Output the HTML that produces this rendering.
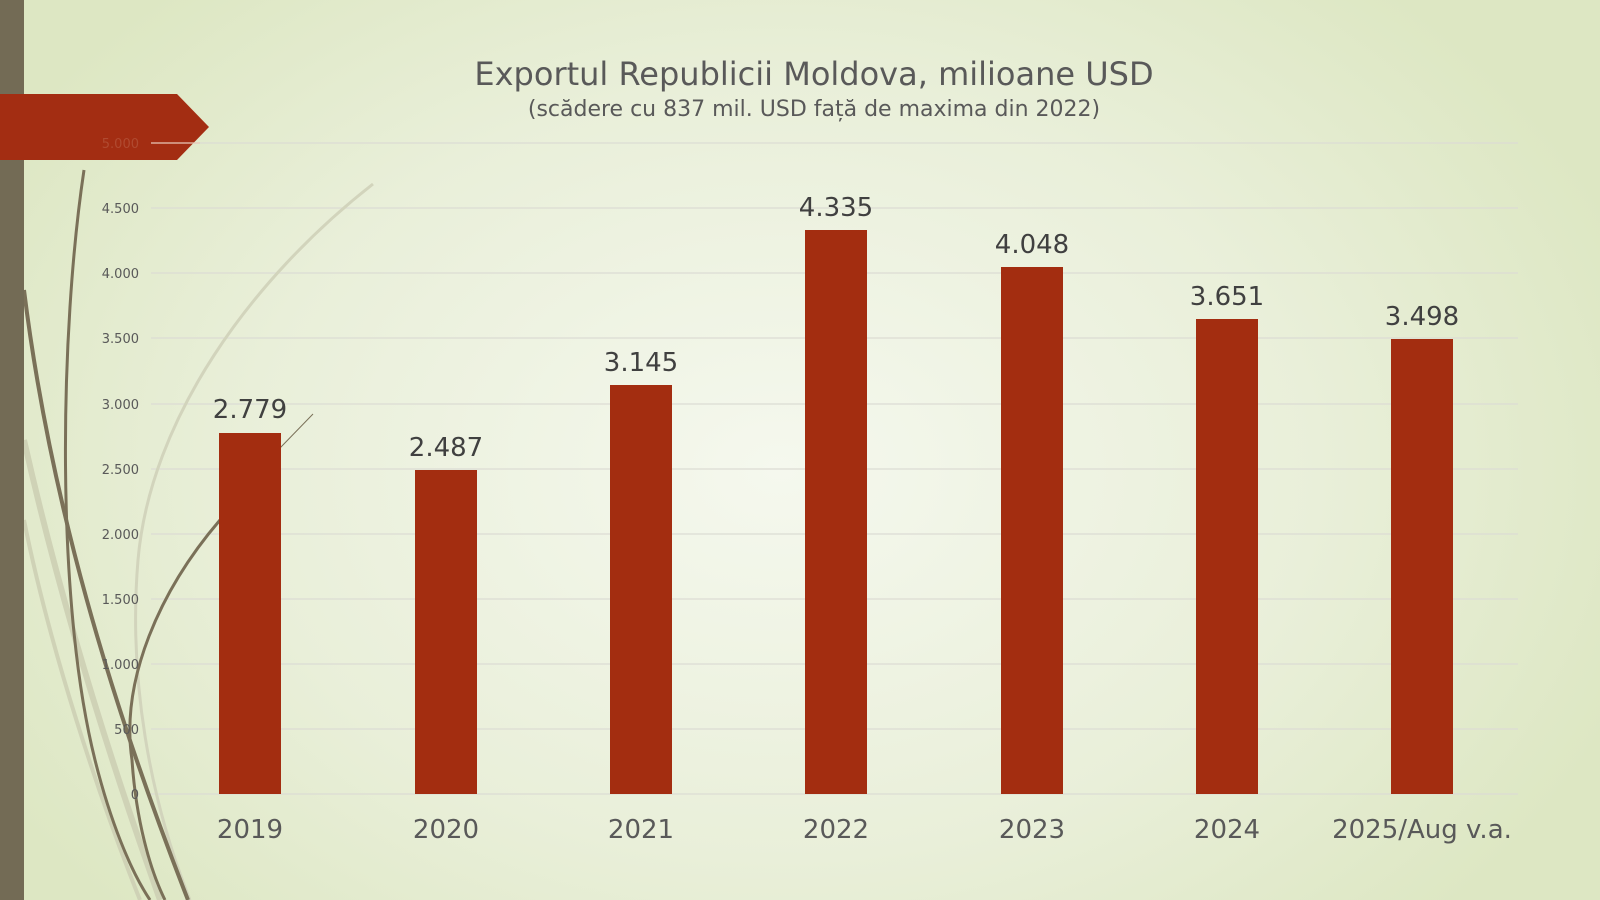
<!DOCTYPE html>
<html><head><meta charset="utf-8"><style>
html,body{margin:0;padding:0}
body{width:1600px;height:900px;overflow:hidden;position:relative;font-family:"DejaVu Sans","Liberation Sans",sans-serif;
background:radial-gradient(ellipse 900px 650px at 780px 470px,#f5f8ee 0%,#e9efd9 60%,#dde7c3 100%);}
</style></head><body>
<svg width="1600" height="900" style="position:absolute;left:0;top:0" xmlns="http://www.w3.org/2000/svg">
<g stroke="#dcdcd4" stroke-width="1.2">
<line x1="151" x2="1518" y1="143" y2="143"/><line x1="151" x2="1518" y1="208" y2="208"/>
<line x1="151" x2="1518" y1="273" y2="273"/><line x1="151" x2="1518" y1="338" y2="338"/>
<line x1="151" x2="1518" y1="404" y2="404"/><line x1="151" x2="1518" y1="469" y2="469"/>
<line x1="151" x2="1518" y1="534" y2="534"/><line x1="151" x2="1518" y1="599" y2="599"/>
<line x1="151" x2="1518" y1="664" y2="664"/><line x1="151" x2="1518" y1="729" y2="729"/>
<line x1="151" x2="1518" y1="794" y2="794"/>
</g>
<g fill="none">
<path d="M373 184 C250 280 150 420 138 560 C128 680 150 800 190 900" stroke="#d2d4bc" stroke-width="3"/>
<path d="M24 440 C60 600 110 760 160 900" stroke="#cfd2b6" stroke-width="6"/>
<path d="M24 520 C50 650 100 800 140 900" stroke="#cfd2b6" stroke-width="4"/>
<path d="M84 170 C60 330 55 600 95 760 C110 820 130 870 150 900" stroke="#7a7058" stroke-width="3"/>
<path d="M24 290 C50 500 110 700 188 900" stroke="#7a7058" stroke-width="4"/>
<path d="M220 520 C160 590 120 680 132 760 C136 820 150 870 165 900" stroke="#7a7058" stroke-width="3"/>
<path d="M280 448 L313 414" stroke="#7a7058" stroke-width="1"/>
</g>
<rect x="0" y="0" width="24" height="900" fill="#736b55"/>
<polygon points="0,94 177,94 209,127 177,160 0,160" fill="#a32d12"/>
<g font-size="13" fill="#595959" text-anchor="end">
<text x="139" y="148" fill="#b04a30">5.000</text><text x="139" y="213">4.500</text>
<text x="139" y="278">4.000</text><text x="139" y="343">3.500</text>
<text x="139" y="409">3.000</text><text x="139" y="474">2.500</text>
<text x="139" y="539">2.000</text><text x="139" y="604">1.500</text>
<text x="139" y="669">1.000</text><text x="139" y="734">500</text>
<text x="139" y="799">0</text>
</g>
<line x1="151" x2="200" y1="143" y2="143" stroke="#e8c8b8" stroke-width="1.2"/>
<g fill="#a32d10">
<rect x="219" y="433" width="62" height="361"/>
<rect x="415" y="470" width="62" height="324"/>
<rect x="610" y="385" width="62" height="409"/>
<rect x="805" y="230" width="62" height="564"/>
<rect x="1001" y="267" width="62" height="527"/>
<rect x="1196" y="319" width="62" height="475"/>
<rect x="1391" y="339" width="62" height="455"/>
</g>
<g font-size="26" fill="#404040" text-anchor="middle">
<text x="250" y="418">2.779</text><text x="446" y="456">2.487</text>
<text x="641" y="371">3.145</text><text x="836" y="216">4.335</text>
<text x="1032" y="253">4.048</text><text x="1227" y="305">3.651</text>
<text x="1422" y="325">3.498</text>
</g>
<g font-size="26" fill="#595959" text-anchor="middle">
<text x="250" y="838">2019</text><text x="446" y="838">2020</text>
<text x="641" y="838">2021</text><text x="836" y="838">2022</text>
<text x="1032" y="838">2023</text><text x="1227" y="838">2024</text>
<text x="1422" y="838">2025/Aug v.a.</text>
</g>
<text x="814" y="85" font-size="32" fill="#595959" text-anchor="middle">Exportul Republicii Moldova, milioane USD</text>
<text x="814" y="116" font-size="22" fill="#595959" text-anchor="middle">(scădere cu 837 mil. USD față de maxima din 2022)</text>
</svg>
</body></html>
